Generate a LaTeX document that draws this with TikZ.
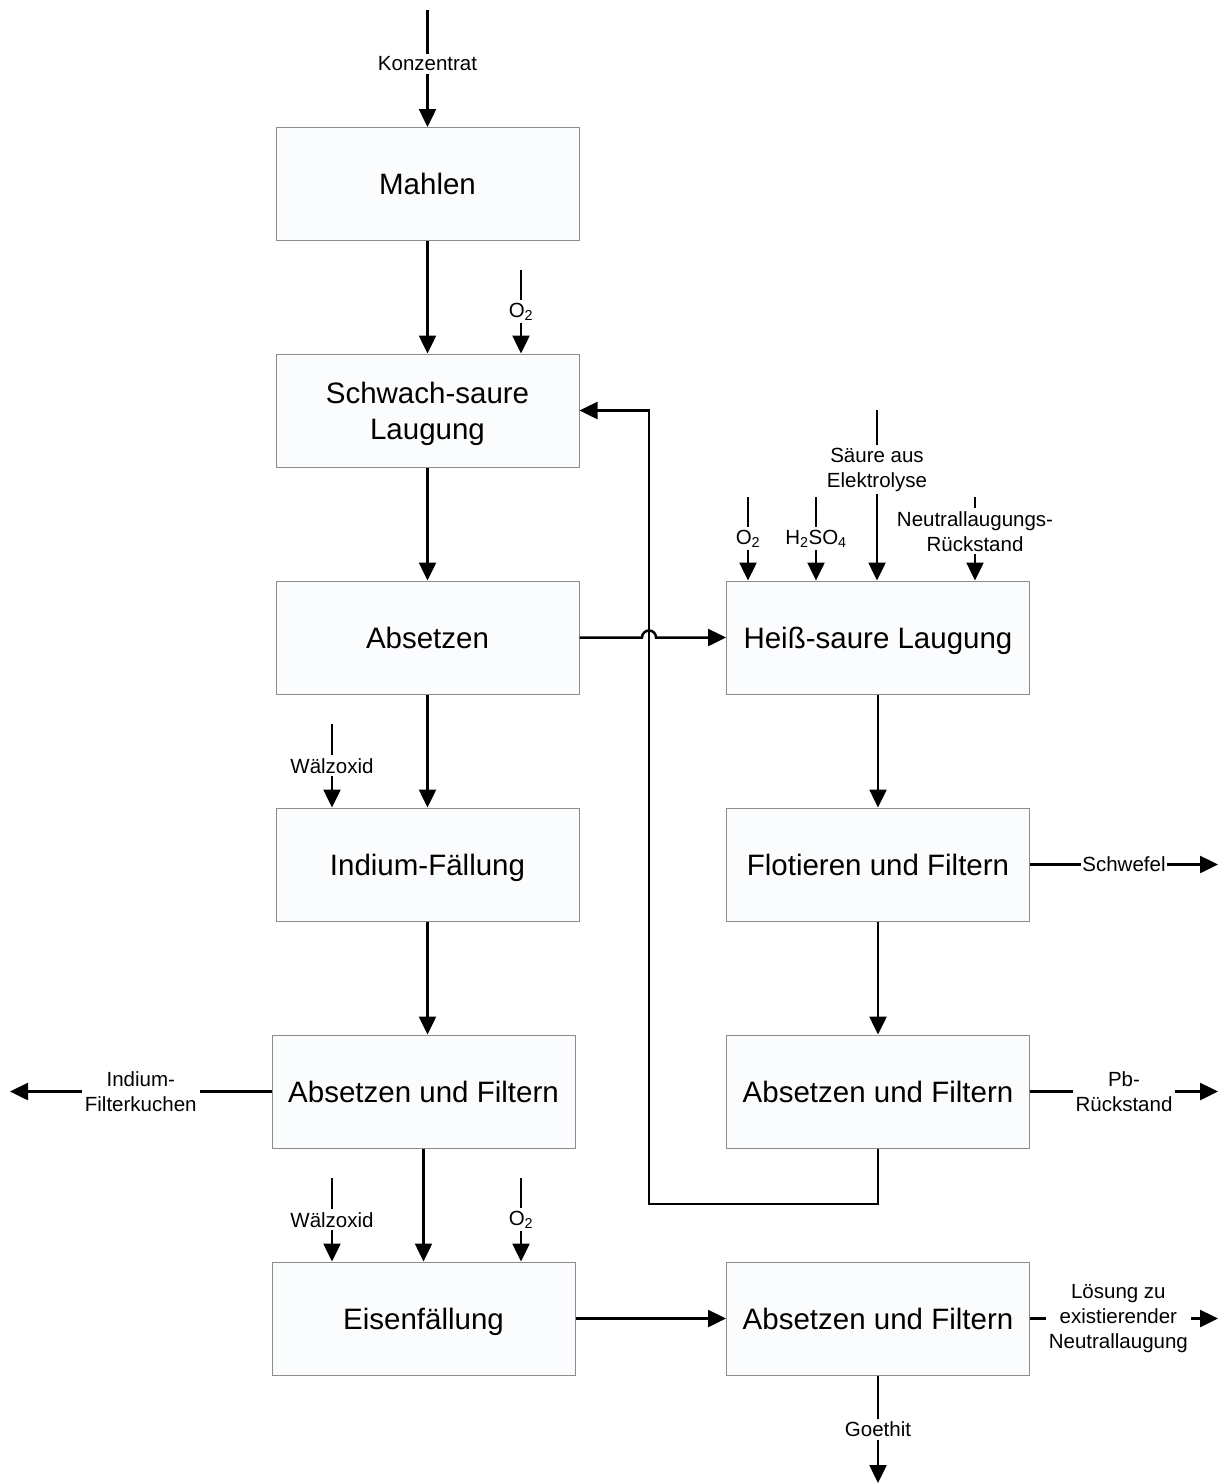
\documentclass[tikz,border=0pt]{standalone}
\usepackage{fontspec}
\setmainfont{Liberation Sans}
\usetikzlibrary{arrows.meta}
\definecolor{boxgray}{HTML}{8C8C8C}
\definecolor{boxfill}{HTML}{FBFCFE}
\begin{document}
\begin{tikzpicture}[x=1pt,y=-1pt,
  proc/.style={draw=boxgray, line width=1pt, fill=boxfill,
    minimum width=303pt, minimum height=113pt, inner sep=0pt,
    text depth=0pt, align=center, font=\fontsize{29.5}{36}\selectfont},
  flow/.style={line width=2.5pt, -{Triangle[length=18pt,width=17pt]}},
  lbl/.style={fill=white, inner sep=3pt, align=center,
    font=\fontsize{20.5}{25}\selectfont},
  line/.style={line width=2.5pt}]
\useasboundingbox (0,0) rectangle (1219,1483);

% process boxes
\node[proc] (mahlen)   at (427.5,184)    {Mahlen};
\node[proc] (schwach)  at (427.5,410.5)  {Schwach-saure\\Laugung};
\node[proc] (absetzen) at (427.5,637.5)  {Absetzen};
\node[proc] (indium)   at (427.5,864.5)  {Indium-Fällung};
\node[proc] (aufL)     at (423.5,1091.5) {Absetzen und Filtern};
\node[proc] (eisen)    at (423.5,1318.5) {Eisenfällung};
\node[proc] (heiss)    at (878,637.5)    {Heiß-saure Laugung};
\node[proc] (flot)     at (878,864.5)    {Flotieren und Filtern};
\node[proc] (aufR)     at (878,1091.5)   {Absetzen und Filtern};
\node[proc] (aufB)     at (878,1318.5)   {Absetzen und Filtern};

% free ends of the feed and product streams
\coordinate (konz)  at (427.5,10);
\coordinate (o2a)   at (521,270);
\coordinate (walzA) at (332,724);
\coordinate (walzB) at (332,1178);
\coordinate (o2b)   at (521,1178);
\coordinate (o2c)   at (748,497);
\coordinate (h2so4) at (816,497);
\coordinate (saure) at (877,410);
\coordinate (nlr)   at (975,497);
\coordinate (ikOut) at (10,1091.5);
\coordinate (sOut)  at (1218,864.5);
\coordinate (pbOut) at (1218,1091.5);
\coordinate (lOut)  at (1218,1318.5);
\coordinate (gOut)  at (878,1483);
\coordinate (ret)   at (649,1204);
\coordinate (hopL)  at (642,637.5);

% main line
\draw[flow] (konz) -- node[lbl,pos=0.46]{Konzentrat} (mahlen.north);
\draw[flow] (mahlen) -- (schwach);
\draw[flow] (schwach) -- (absetzen);
\draw[flow] (absetzen) -- (indium);
\draw[flow] (indium.south) -- (indium.south |- aufL.north);
\draw[flow] (aufL) -- (eisen);
\draw[flow] (eisen) -- (aufB);

% additions to the left line
\draw[flow] (o2a) -- node[lbl]{O\textsubscript{2}} (o2a |- schwach.north);
\draw[flow] (walzA) -- node[lbl]{Wälzoxid} (walzA |- indium.north);
\draw[flow] (walzB) -- node[lbl]{Wälzoxid} (walzB |- eisen.north);
\draw[flow] (o2b) -- node[lbl]{O\textsubscript{2}} (o2b |- eisen.north);

% Absetzen to hot acid leach, hopping over the return line
\draw[flow] (absetzen.east) -- (hopL) arc[start angle=180,end angle=360,radius=7] -- (heiss.west);

% additions to the hot acid leach
\draw[flow] (o2c) -- node[lbl]{O\textsubscript{2}} (o2c |- heiss.north);
\draw[flow] (h2so4) -- node[lbl]{H\textsubscript{2}SO\textsubscript{4}} (h2so4 |- heiss.north);
\draw[flow] (saure) -- node[lbl,pos=0.35]{Säure aus\\Elektrolyse} (saure |- heiss.north);
\draw[flow] (nlr) -- node[lbl,pos=0.41]{Neutrallaugungs-\\Rückstand} (nlr |- heiss.north);

% right line
\draw[flow] (heiss) -- (flot);
\draw[flow] (flot) -- (aufR);
\draw[flow] (aufR.south) |- (ret) |- (schwach.east);

% products
\draw[flow] (aufL.west) -- node[lbl]{Indium-\\Filterkuchen} (ikOut);
\draw[flow] (flot.east) -- node[lbl,inner sep=1pt]{Schwefel} (sOut);
\draw[flow] (aufR.east) -- node[lbl]{Pb-\\Rückstand} (pbOut);
\draw[flow] (aufB.east) -- node[lbl,pos=0.47]{Lösung zu\\existierender\\Neutrallaugung} (lOut);
\draw[flow] (aufB.south) -- node[lbl]{Goethit} (gOut);
\end{tikzpicture}
\end{document}
